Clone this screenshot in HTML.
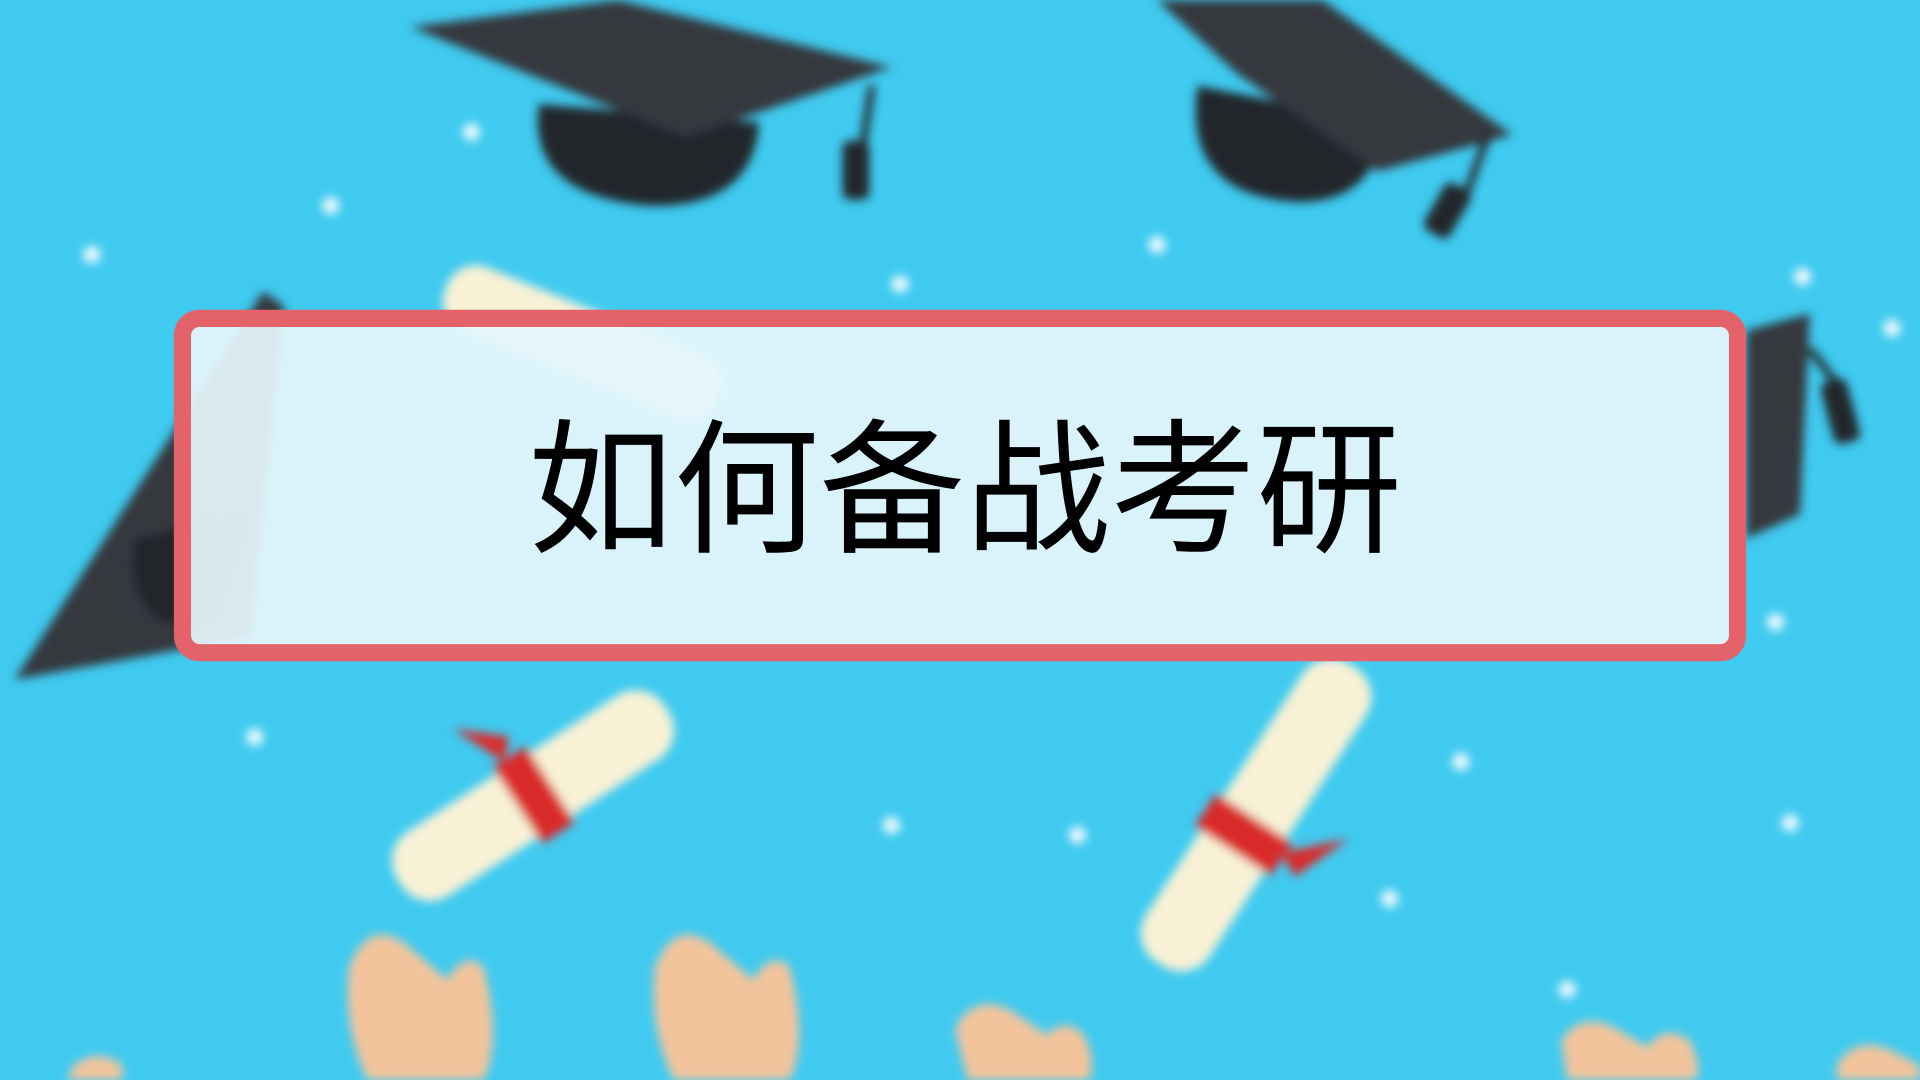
<!DOCTYPE html>
<html><head><meta charset="utf-8"><style>
html,body{margin:0;padding:0;width:1920px;height:1080px;overflow:hidden;background:#40caf0}
svg{display:block}
</style></head><body>
<svg width="1920" height="1080" viewBox="0 0 1568 882" preserveAspectRatio="none" xmlns="http://www.w3.org/2000/svg">
<defs><filter id="b" x="-10%" y="-10%" width="120%" height="120%"><feGaussianBlur stdDeviation="4"/></filter></defs>
<rect width="1568" height="882" fill="#40caf0"/>
<g filter="url(#b)">
  <g fill="#fff" opacity="0.9">
    <circle cx="385" cy="108" r="7"/><circle cx="270" cy="168" r="7"/><circle cx="75" cy="208" r="7"/>
    <circle cx="735" cy="232" r="7"/><circle cx="945" cy="200" r="7"/><circle cx="1472" cy="226" r="7"/>
    <circle cx="1545" cy="268" r="7"/><circle cx="208" cy="602" r="7"/><circle cx="728" cy="674" r="7"/>
    <circle cx="880" cy="682" r="7"/><circle cx="1193" cy="622" r="7"/><circle cx="1462" cy="672" r="7"/>
    <circle cx="1135" cy="734" r="7"/><circle cx="1280" cy="808" r="7"/><circle cx="1450" cy="508" r="7"/>
  </g>
  <g>
    <path d="M440 85 Q430 160 530 168 Q615 170 620 100 Z" fill="#24262b"/>
    <polygon points="335,22 505,0 728,55 560,112" fill="#34373d"/>
    <line x1="712" y1="70" x2="700" y2="150" stroke="#24262b" stroke-width="6"/>
    <rect x="688" y="115" width="22" height="48" rx="6" fill="#24262b"/>
  </g>
  <g>
    <path d="M978 70 Q965 160 1060 165 Q1125 165 1130 100 Z" fill="#24262b"/>
    <polygon points="945,0 1080,0 1235,110 1125,140 1010,60" fill="#34373d"/>
    <line x1="1215" y1="110" x2="1195" y2="165" stroke="#24262b" stroke-width="6"/>
    <rect x="1170" y="150" width="24" height="44" rx="6" transform="rotate(30 1182 172)" fill="#24262b"/>
  </g>
  <g>
    <polygon points="12,555 215,238 232,250 205,520" fill="#34373d"/>
    <path d="M110 440 Q100 520 170 510 L200 420 Z" fill="#24262b"/>
  </g>
  <g>
    <polygon points="1426,270 1478,256 1470,420 1426,440" fill="#34373d"/>
    <line x1="1478" y1="285" x2="1505" y2="320" stroke="#24262b" stroke-width="6"/>
    <rect x="1492" y="310" width="22" height="52" rx="6" transform="rotate(-15 1503 336)" fill="#24262b"/>
  </g>
  <g transform="rotate(-33 433 650)">
    <rect x="305" y="620" width="260" height="62" rx="28" fill="#f8f1d6"/>
    <rect x="420" y="614" width="32" height="74" fill="#d92a2a"/>
    <polygon points="430,615 410,570 445,600" fill="#d92a2a"/>
  </g>
  <g transform="rotate(-57 1025 665)">
    <rect x="880" y="635" width="290" height="62" rx="28" fill="#f8f1d6"/>
    <rect x="990" y="629" width="32" height="74" fill="#d92a2a"/>
    <polygon points="1010,700 1050,740 1000,720" fill="#d92a2a"/>
  </g>
  <g transform="rotate(22 470 280)">
    <rect x="355" y="250" width="240" height="55" rx="25" fill="#f8f1d6"/>
  </g>
  <g fill="#f3c49c">
    <path d="M285 790 Q300 750 330 770 L365 800 Q380 775 395 790 Q410 850 395 882 L300 882 Q280 840 285 790 Z"/>
    <path d="M535 790 Q550 750 580 770 L615 800 Q630 775 645 790 Q660 850 645 882 L550 882 Q530 840 535 790 Z"/>
    <path d="M780 840 Q795 810 825 825 L855 845 Q870 830 885 845 Q895 865 890 882 L790 882 Z"/>
    <path d="M1275 850 Q1290 825 1320 840 L1345 855 Q1360 835 1380 850 Q1390 870 1385 882 L1280 882 Z"/>
    <path d="M1500 870 Q1515 845 1545 858 L1568 870 L1568 882 L1500 882 Z"/>
    <path d="M60 870 Q80 855 100 870 L100 882 L55 882 Z"/>
  </g>
</g>
<rect x="149" y="260" width="1270" height="273" rx="14" fill="#e6f6fc" fill-opacity="0.93" stroke="#e4636b" stroke-width="14"/>
<text x="788" y="442" text-anchor="middle" font-family="'Liberation Sans','Noto Sans CJK SC',sans-serif" font-size="119" fill="#000">如何备战考研</text>
</svg>
</body></html>
